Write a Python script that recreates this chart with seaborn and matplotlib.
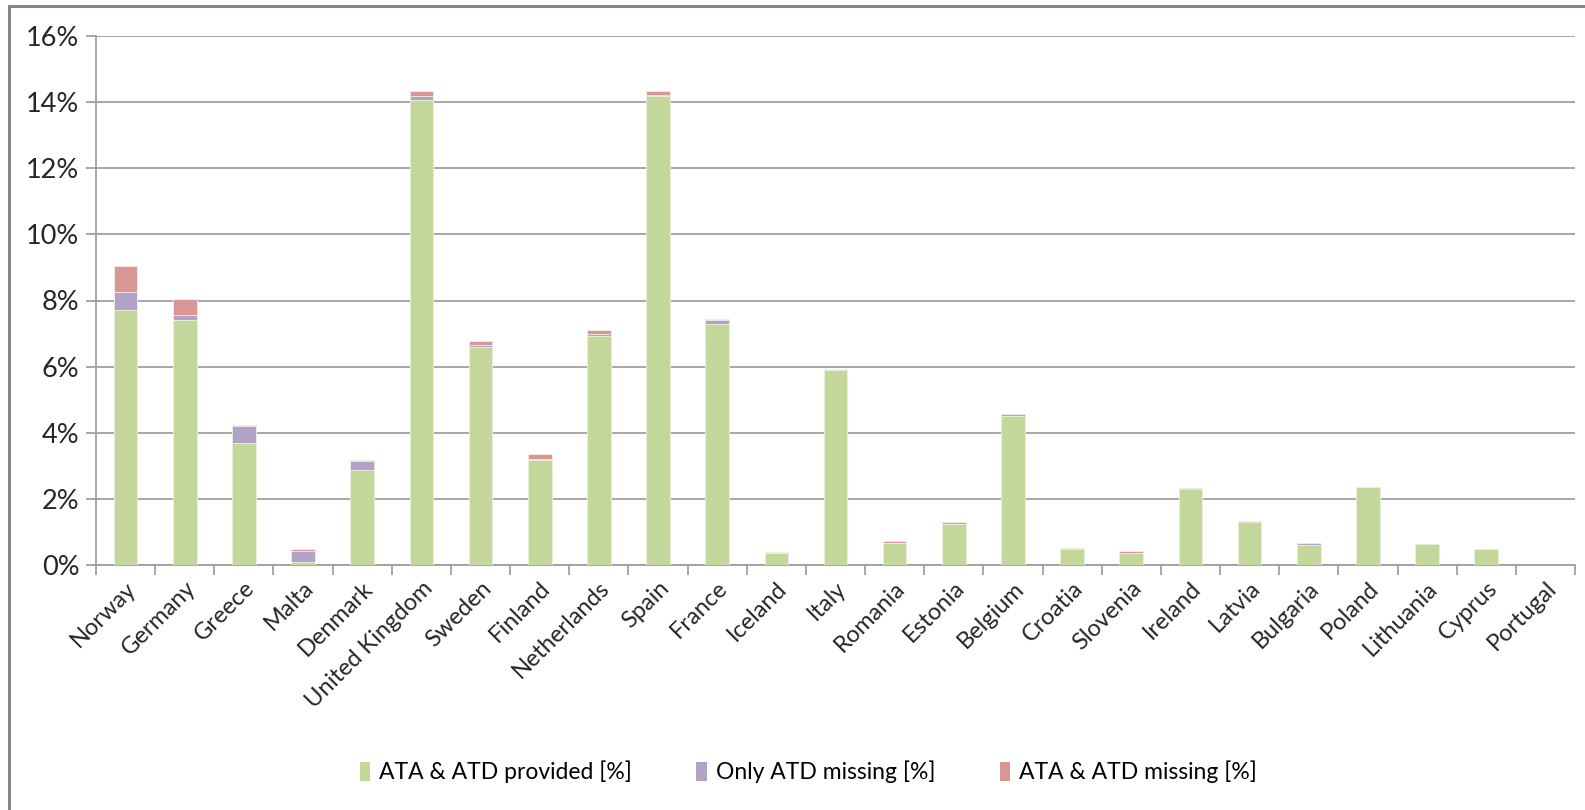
import matplotlib
matplotlib.use("Agg")
import matplotlib.pyplot as plt
from matplotlib.patches import Patch
from matplotlib.lines import Line2D
from matplotlib.ticker import FixedLocator, FuncFormatter
import numpy as np
import seaborn as sns

countries = ["Norway", "Germany", "Greece", "Malta", "Denmark", "United Kingdom",
             "Sweden", "Finland", "Netherlands", "Spain", "France", "Iceland",
             "Italy", "Romania", "Estonia", "Belgium", "Croatia", "Slovenia",
             "Ireland", "Latvia", "Bulgaria", "Poland", "Lithuania", "Cyprus",
             "Portugal"]

# share of flights per country, in percent
provided = [7.72, 7.42, 3.70, 0.10, 2.87, 14.05, 6.58, 3.17, 6.93, 14.20, 7.30, 0.35,
            5.89, 0.66, 1.25, 4.52, 0.48, 0.37, 2.29, 1.29, 0.62, 2.36, 0.65, 0.47, 0.0]
only_atd_missing = [0.55, 0.15, 0.49, 0.33, 0.28, 0.13, 0.07, 0.03, 0.07, 0.03, 0.10, 0.0,
                    0.0, 0.0, 0.0, 0.05, 0.04, 0.0, 0.05, 0.05, 0.05, 0.0, 0.0, 0.0, 0.0]
ata_atd_missing = [0.78, 0.47, 0.03, 0.04, 0.02, 0.15, 0.12, 0.17, 0.10, 0.10, 0.03, 0.04,
                   0.05, 0.06, 0.05, 0.0, 0.0, 0.04, 0.0, 0.0, 0.0, 0.0, 0.0, 0.0, 0.0]

series_labels = ["ATA & ATD provided [%]", "Only ATD missing [%]", "ATA & ATD missing [%]"]
colors = ["#C4D79B", "#B3A2C7", "#D99694"]
y_ticks = [0, 2, 4, 6, 8, 10, 12, 14, 16]

sns.set_theme(style="white")
plt.rcParams["font.family"] = ["Lato", "DejaVu Sans"]
plt.rcParams["text.color"] = "#000000"

fig = plt.figure(figsize=(15.85, 8.10), dpi=100)
ax = fig.add_axes([96 / 1585, 1 - 565 / 810, (1575 - 96) / 1585, (565 - 36) / 810])

p = np.array(provided)
o = np.array(only_atd_missing)
m = np.array(ata_atd_missing)
layers = [p + o + m, p + o, p]
layer_colors = [colors[2], colors[1], colors[0]]

# stacked bars drawn as cumulative totals, tallest layer first
for vals, col in zip(layers, layer_colors):
    sns.barplot(x=countries, y=vals, color=col, saturation=1, width=0.4,
                edgecolor="#EEF3E2", linewidth=0.6, ax=ax, zorder=3)

grid_col = "#A0A0A0"
ax.set_ylim(0, 16)
ax.set_xlim(-0.5, len(countries) - 0.5)
ax.yaxis.set_major_locator(FixedLocator(y_ticks))
ax.yaxis.set_major_formatter(FuncFormatter(lambda v, _: f"{v:.0f}%"))
ax.grid(axis="y", color=grid_col, linewidth=1.3, zorder=0)
ax.set_axisbelow(True)

for side in ["top", "right"]:
    ax.spines[side].set_visible(False)
for side in ["left", "bottom"]:
    ax.spines[side].set_color(grid_col)
    ax.spines[side].set_linewidth(1.3)

# category boundaries carry the tick marks, centres carry the labels
ax.xaxis.set_minor_locator(FixedLocator(np.arange(-0.5, len(countries), 1.0)))
ax.tick_params(axis="x", which="minor", length=7, width=1.3, color=grid_col, direction="out", bottom=True)
ax.tick_params(axis="x", which="major", length=0, pad=9, labelsize=17)
ax.tick_params(axis="y", which="major", length=7, width=1.3, color=grid_col, direction="out",
               left=True, pad=5, labelsize=19.5)
plt.setp(ax.get_xticklabels(), rotation=45, ha="right", rotation_mode="anchor")
ax.set_xlabel("")
ax.set_ylabel("")

handles = [Patch(facecolor=c, edgecolor="none") for c in colors]
fig.legend(handles, series_labels, loc="center", bbox_to_anchor=(0.51, 1 - 772 / 810),
           ncol=3, frameon=False, fontsize=16.5, handlelength=0.45, handleheight=0.9,
           handletextpad=0.4, columnspacing=2.8)

# chart frame
frame_col = "#868686"
fig.add_artist(Line2D([8.5 / 1585, 8.5 / 1585], [0, 1 - 6 / 810], transform=fig.transFigure,
                      color=frame_col, linewidth=2.2))
fig.add_artist(Line2D([8.5 / 1585, 1], [1 - 6 / 810, 1 - 6 / 810], transform=fig.transFigure,
                      color=frame_col, linewidth=2.2))

fig.savefig("out.png", dpi=100, facecolor="white")
